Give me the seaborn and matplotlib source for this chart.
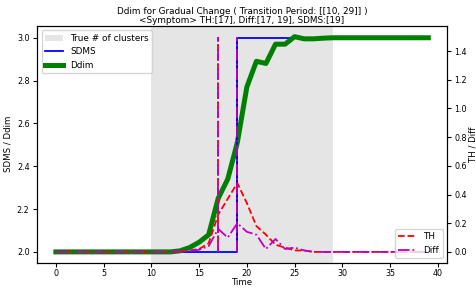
import numpy as np
import seaborn as sns
import matplotlib
matplotlib.use("Agg")
import matplotlib.pyplot as plt

# time axis and series
t = list(range(40))
sdms = [2.0] * 19 + [3.0] * 21
ddim = [2.0] * 13 + [2.005, 2.02, 2.045, 2.08, 2.25, 2.34, 2.51, 2.77, 2.89, 2.88,
                     2.97, 2.97, 3.005, 2.995, 2.995, 2.998, 3.0, 3.0, 3.0, 3.0,
                     3.0, 3.0, 3.0, 3.0, 3.0, 3.0, 3.0]
th = [0.0] * 13 + [0.005, 0.01, 0.02, 0.06, 0.26, 0.37, 0.48, 0.34, 0.18, 0.12,
                   0.05, 0.03, 0.01, 0.01] + [0.0] * 13
diff = [0.0] * 13 + [0.003, 0.008, 0.015, 0.04, 0.16, 0.10, 0.20, 0.14, 0.12, 0.02,
                     0.09, 0.02, 0.03, 0.01] + [0.0] * 13

transition = [10, 29]
th_sym = [17]
diff_sym = [17, 19]
sdms_sym = [19]

plt.rcParams["font.size"] = 6
plt.rcParams["xtick.labelsize"] = 5.8
plt.rcParams["ytick.labelsize"] = 5.8
plt.rcParams["xtick.major.pad"] = 1.5
plt.rcParams["ytick.major.pad"] = 2.5
plt.rcParams["xtick.major.size"] = 3
plt.rcParams["ytick.major.size"] = 3
fig, ax1 = plt.subplots(figsize=(4.77, 2.88), dpi=100)
fig.subplots_adjust(left=0.078, right=0.937, top=0.91, bottom=0.088)

ax1.axvspan(transition[0], transition[1], color="#e5e5e5", lw=0, label="True # of clusters")
sns.lineplot(x=t, y=sdms, ax=ax1, color="b", lw=1.3, drawstyle="steps-post", label="SDMS")
sns.lineplot(x=t, y=ddim, ax=ax1, color="g", lw=3.6, label="Ddim")
for s in sdms_sym:
    ax1.vlines(s, min(sdms), max(sdms), color="b", lw=1.3)
ax1.set_xlabel("Time", labelpad=0, fontsize=6.2)
ax1.set_ylabel("SDMS / Ddim", labelpad=3, fontsize=6.2)
ax1.set_yticks(np.arange(2.0, 3.01, 0.2))
ax1.legend(loc="upper left", fontsize=6.4)

ax2 = ax1.twinx()
sns.lineplot(x=t, y=th, ax=ax2, color="r", lw=1.3, linestyle="--", label="TH")
sns.lineplot(x=t, y=diff, ax=ax2, color="m", lw=1.3, linestyle="-.", label="Diff")
for s in th_sym:
    ax2.vlines(s, 0, 1.5, color="r", lw=1.3, linestyles="--")
for s in diff_sym:
    ax2.vlines(s, 0, 1.5, color="m", lw=1.3, linestyles="-.")
ax2.set_ylabel("TH / Diff", labelpad=1, fontsize=6.2)
ax2.set_yticks(np.arange(0.0, 1.41, 0.2))
ax2.legend(loc="lower right", fontsize=6.4)

ax1.set_title("Ddim for Gradual Change ( Transition Period: [[10, 29]] )\n"
              "<Symptom> TH:[17], Diff:[17, 19], SDMS:[19]", fontsize=6.4, pad=2,
              linespacing=1.0)

fig.savefig("out.png", dpi=100)
